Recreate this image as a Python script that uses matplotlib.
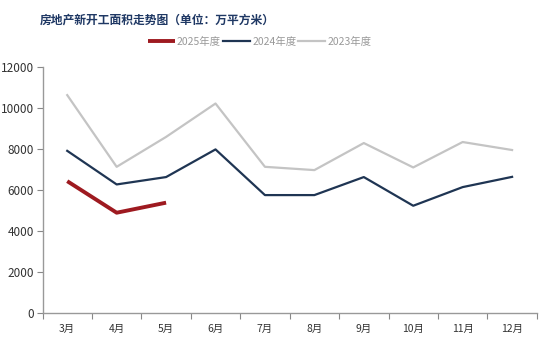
import matplotlib
matplotlib.use("Agg")
import matplotlib.pyplot as plt
import numpy as np

plt.rcParams['font.family'] = ['Noto Sans CJK SC', 'DejaVu Sans']

months = ["3月", "4月", "5月", "6月", "7月", "8月", "9月", "10月", "11月", "12月"]
s2025 = [6420, 4880, 5370]
s2024 = [7900, 6260, 6620, 7970, 5740, 5740, 6620, 5220, 6130, 6630]
s2023 = [10620, 7120, 8580, 10210, 7120, 6960, 8280, 7090, 8330, 7940]
labels = ["2025年度", "2024年度", "2023年度"]
yticks = [0, 2000, 4000, 6000, 8000, 10000, 12000]

fig = plt.figure(figsize=(5.5, 3.41), dpi=100)
ax = fig.add_axes([0.0773, 0.083, 0.8987, 0.721])

x = np.arange(len(months))
l1, = ax.plot(x[:len(s2025)], s2025, color="#9e1a20", lw=2.8, solid_capstyle="butt", zorder=3)
l2, = ax.plot(x, s2024, color="#1f3553", lw=1.6, zorder=2)
l3, = ax.plot(x, s2023, color="#c4c4c4", lw=1.6, zorder=1)

ax.set_xlim(-0.5, len(months) - 0.5)
ax.set_ylim(0, 12000)
ax.set_yticks(yticks)
ax.set_yticklabels([str(v) for v in yticks], fontsize=8.5, color="#333333")
ax.set_xticks(x)
ax.set_xticklabels(months, fontsize=7.5, color="#333333")
ax.tick_params(axis="x", length=0, pad=8)
ax.set_xticks(np.arange(-0.5, len(months)), minor=True)
ax.tick_params(axis="x", which="minor", length=4, color="#888888", width=0.8)
ax.tick_params(axis="y", length=4, color="#888888", width=0.8, pad=2)
for s in ["top", "right"]:
    ax.spines[s].set_visible(False)
for s in ["left", "bottom"]:
    ax.spines[s].set_color("#999999")
    ax.spines[s].set_linewidth(1.0)

fig.text(0.073, 0.94, "房地产新开工面积走势图（单位：万平方米）", fontsize=8.5, fontweight="bold",
         color="#1f3864", ha="left", va="center")
fig.legend([l1, l2, l3], labels, loc="center", bbox_to_anchor=(0.472, 0.878), ncol=3,
           frameon=False, fontsize=7.5, handlelength=2.6, columnspacing=0.2, handletextpad=0.2,
           labelcolor="#999999")

fig.savefig("out.png", dpi=100, facecolor="white")
